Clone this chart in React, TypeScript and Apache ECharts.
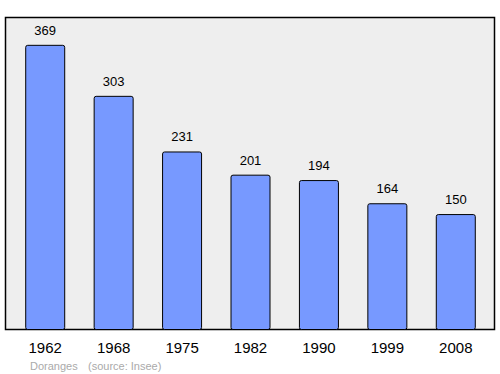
import React, { useEffect, useRef } from "react";
import * as echarts from "echarts";

const years = ["1962", "1968", "1975", "1982", "1990", "1999", "2008"];
const population = [369, 303, 231, 201, 194, 164, 150];
const footerName = "Doranges";
const footerSource = "(source: Insee)";

export default function App() {
  const ref = useRef<HTMLDivElement>(null);
  useEffect(() => {
    if (!ref.current) return;
    const chart = echarts.init(ref.current, undefined, { renderer: "svg" });
    chart.setOption({
      animation: false,
      grid: { left: 11, right: 10, top: 17, bottom: 44, containLabel: false },
      graphic: [
        {
          type: "rect",
          z: -10,
          shape: { x: 5.5, y: 17.5, width: 489, height: 312 },
          style: { fill: "#eeeeee", stroke: "#000", lineWidth: 1.5 },
          silent: true,
        },
        {
          type: "text",
          x: 30,
          y: 360,
          style: { text: footerName, fill: "#aaaaaa", font: "11px 'Liberation Sans', Arial, sans-serif" },
        },
        {
          type: "text",
          x: 88,
          y: 360,
          style: { text: footerSource, fill: "#aaaaaa", font: "11px 'Liberation Sans', Arial, sans-serif" },
        },
      ],
      xAxis: {
        type: "category",
        data: years,
        axisLine: { show: false },
        axisTick: { show: false },
        axisLabel: {
          color: "#000",
          fontSize: 15,
          fontFamily: "'Liberation Sans', Arial, sans-serif",
          margin: 10,
        },
      },
      yAxis: {
        type: "value",
        min: 0,
        max: 405,
        show: false,
        splitLine: { show: false },
      },
      series: [
        {
          type: "bar",
          data: population,
          barWidth: 40,
          itemStyle: { color: "#7799ff", borderColor: "#000", borderWidth: 1, borderRadius: 2 },
          label: {
            show: true,
            position: "top",
            distance: 8,
            color: "#000",
            fontSize: 13,
            fontFamily: "'Liberation Sans', Arial, sans-serif",
          },
        },
      ],
    });
    return () => chart.dispose();
  }, []);
  return <div ref={ref} style={{ width: 500, height: 374, position: "absolute", left: 0, top: 0 }} />;
}
